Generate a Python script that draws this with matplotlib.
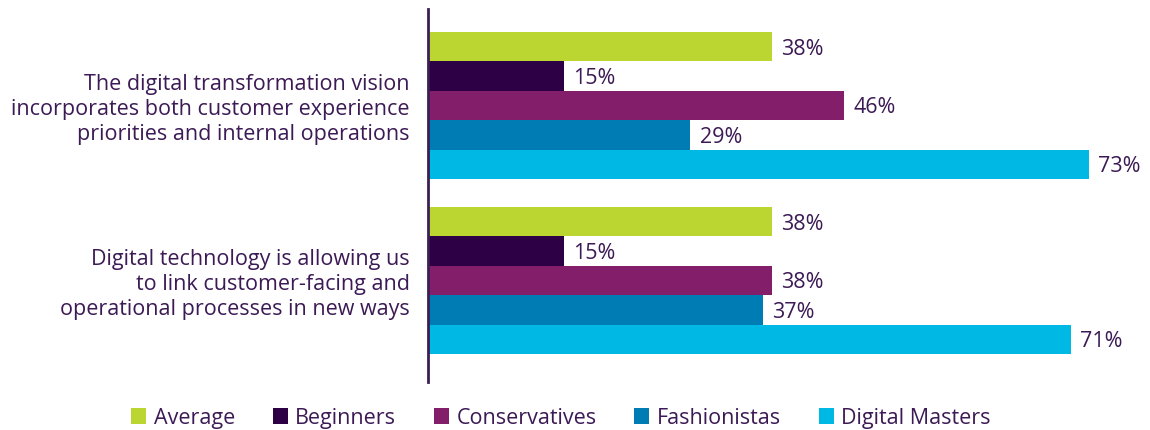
import matplotlib.pyplot as plt
from matplotlib.patches import Patch

plt.rcParams['font.family'] = ['Open Sans', 'DejaVu Sans']

categories = [
    "The digital transformation vision\nincorporates both customer experience\npriorities and internal operations",
    "Digital technology is allowing us\nto link customer-facing and\noperational processes in new ways",
]
series = ["Average", "Beginners", "Conservatives", "Fashionistas", "Digital Masters"]
values = [
    [38, 15, 46, 29, 73],
    [38, 15, 38, 37, 71],
]
colors = ["#bcd631", "#2d0046", "#821e6a", "#007cb5", "#00b8e4"]
text_color = "#3c1a55"

W, H = 1150, 431
fig = plt.figure(figsize=(W / 100, H / 100), dpi=100)
ax = fig.add_axes([428 / W, 1 - 383 / H, (1143 - 428) / W, (383 - 10) / H])

group_gap = 5.95
for g, vals in enumerate(values):
    for i, v in enumerate(vals):
        y = g * group_gap + i
        ax.barh(y, v, height=1.0, color=colors[i])
        ax.text(v + 1.0, y + 0.05, f"{v}%", va="center", ha="left",
                fontsize=15.5, color=text_color, clip_on=False)
    center = g * group_gap + 2
    ax.text(-2.0, center + 0.1, categories[g], ha="right", va="center",
            fontsize=15.5, color=text_color, linespacing=1.27)

ax.set_xlim(0, 79)
ax.set_ylim(11.4, -1.28)
for s in ["top", "right", "bottom"]:
    ax.spines[s].set_visible(False)
ax.spines["left"].set_color("#3b1f54")
ax.spines["left"].set_linewidth(2)
ax.set_xticks([])
ax.set_yticks([])

handles = [Patch(facecolor=c, edgecolor="none") for c in colors]
leg = fig.legend(handles, series, loc="center", bbox_to_anchor=(561 / W, 1 - 419 / H),
                 ncol=5, frameon=False, fontsize=15.5, handlelength=0.7, handleheight=0.7,
                 handletextpad=0.35, columnspacing=1.75)
for t in leg.get_texts():
    t.set_color(text_color)

fig.savefig("out.png", dpi=100)
